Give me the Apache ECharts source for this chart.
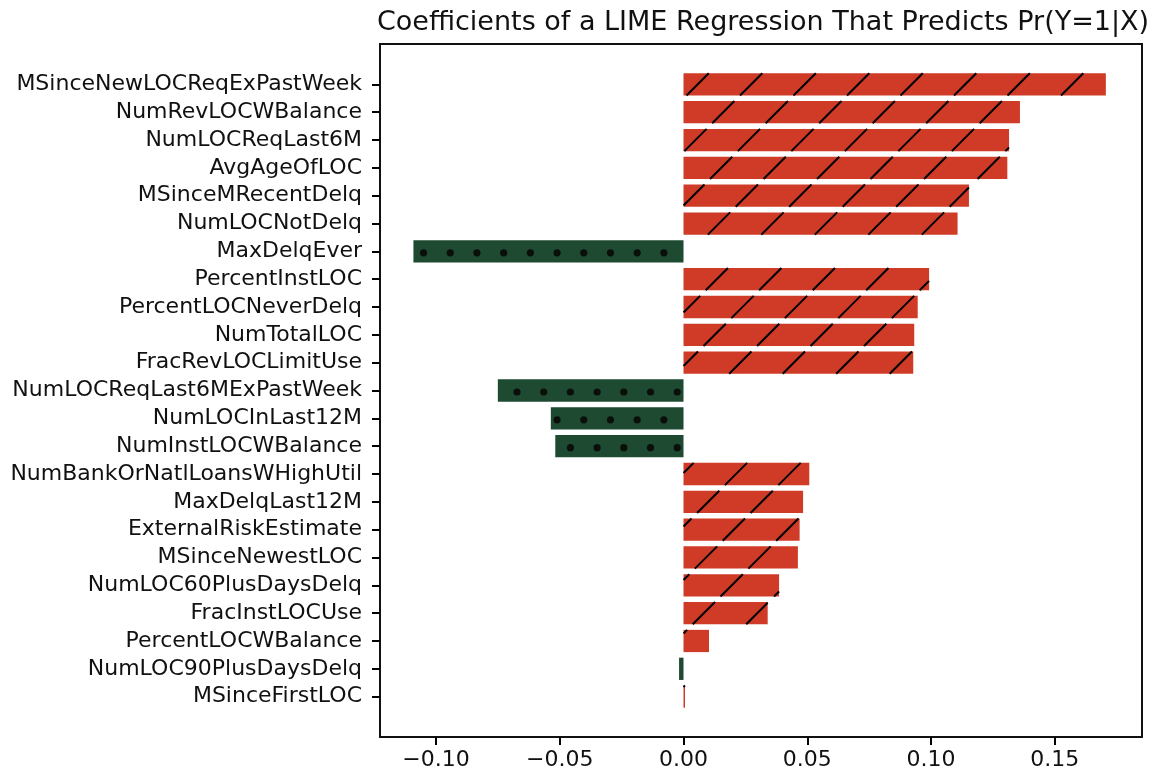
<!DOCTYPE html>
<html>
<head>
<meta charset="utf-8">
<script src="https://cdn.jsdelivr.net/npm/echarts@6/dist/echarts.min.js"></script>
<style>
  html, body { margin: 0; padding: 0; background: #fff; }
  #chart { width: 1149px; height: 775px; }
</style>
</head>
<body>
<div id="chart"></div>
<script>
// Feature names, top to bottom
const categories = [
  'MSinceNewLOCReqExPastWeek', 'NumRevLOCWBalance', 'NumLOCReqLast6M', 'AvgAgeOfLOC',
  'MSinceMRecentDelq', 'NumLOCNotDelq', 'MaxDelqEver', 'PercentInstLOC',
  'PercentLOCNeverDelq', 'NumTotalLOC', 'FracRevLOCLimitUse', 'NumLOCReqLast6MExPastWeek',
  'NumLOCInLast12M', 'NumInstLOCWBalance', 'NumBankOrNatlLoansWHighUtil', 'MaxDelqLast12M',
  'ExternalRiskEstimate', 'MSinceNewestLOC', 'NumLOC60PlusDaysDelq', 'FracInstLOCUse',
  'PercentLOCWBalance', 'NumLOC90PlusDaysDelq', 'MSinceFirstLOC'
];

// LIME coefficient for each feature
const coefficients = [
  0.1706, 0.1359, 0.1315, 0.1308,
  0.1153, 0.1107, -0.1091, 0.0992,
  0.0946, 0.0932, 0.0928, -0.0750,
  -0.0536, -0.0518, 0.0508, 0.0483,
  0.0469, 0.0462, 0.0386, 0.0340,
  0.0103, -0.0018, 0.0006
];

// Tick labels on the coefficient axis
const xTicks = [-0.10, -0.05, 0.00, 0.05, 0.10, 0.15];

const POS_COLOR = '#cf3b27';
const NEG_COLOR = '#1f4a32';
const INK = '#111';
const FONT = 'DejaVu Sans';

const chart = echarts.init(document.getElementById('chart'), null, { renderer: 'canvas' });

function fmtTick(v) {
  const s = Math.abs(v).toFixed(2);
  return v < -1e-9 ? '\u2212' + s : s;
}

// Diagonal "/" hatch lines, clipped to a rectangle (pattern anchored to the canvas)
function hatchLines(x0, y0, x1, y1) {
  const P = 53.5, phase = 33;
  const out = [];
  const cStart = Math.ceil((x0 + y0 - phase) / P) * P + phase;
  for (let c = cStart; c <= x1 + y1; c += P) {
    const xs = Math.max(x0, c - y1);
    const xe = Math.min(x1, c - y0);
    if (xe - xs < 0.5) continue;
    out.push({
      type: 'line',
      shape: { x1: xs, y1: c - xs, x2: xe, y2: c - xe },
      style: { stroke: '#000', lineWidth: 2 },
      silent: true
    });
  }
  return out;
}

// Row of small dots inside negative bars
function dotRow(idx, x0, x1, cy, zeroX) {
  const step = 26.7, r = 3.6;
  const out = [];
  const start = zeroX - 6.3 - 13.35 * ((idx + 1) % 2);
  for (let x = start; x >= x0 + 3; x -= step) {
    if (x > x1 - 2) continue;
    out.push({
      type: 'circle',
      shape: { cx: x, cy: cy + 1.5, r: r },
      style: { fill: '#0b0f0c' },
      silent: true
    });
  }
  return out;
}

const rowTicks = categories.map((_, i) => i);

const option = {
  backgroundColor: '#fff',
  animation: false,
  title: {
    text: 'Coefficients of a LIME Regression That Predicts Pr(Y=1|X)',
    left: 758,
    textAlign: 'center',
    top: 4,
    textStyle: { fontFamily: FONT, fontSize: 27, fontWeight: 'normal', color: INK }
  },
  grid: {
    left: 380, right: 7, top: 44, bottom: 38,
    show: true, borderColor: INK, borderWidth: 2
  },
  xAxis: {
    type: 'value',
    min: -0.1226,
    max: 0.1852,
    axisLine: { show: true, onZero: false, lineStyle: { color: INK, width: 2 } },
    splitLine: { show: false },
    axisTick: { show: true, customValues: xTicks, length: 8, lineStyle: { color: '#000', width: 2 } },
    axisLabel: {
      customValues: xTicks,
      formatter: fmtTick,
      fontFamily: FONT, fontSize: 22, color: INK, margin: 12
    }
  },
  yAxis: {
    type: 'value',
    inverse: true,
    min: -1.45,
    max: categories.length - 1 + 1.45,
    axisLine: { show: true, onZero: false, lineStyle: { color: INK, width: 2 } },
    splitLine: { show: false },
    axisTick: { show: true, customValues: rowTicks, length: 8, lineStyle: { color: '#000', width: 2 } },
    axisLabel: {
      customValues: rowTicks,
      formatter: v => categories[Math.round(v)],
      fontFamily: FONT, fontSize: 22, color: INK, margin: 18
    }
  },
  series: [{
    type: 'custom',
    clip: true,
    data: coefficients.map((v, i) => [v, i]),
    encode: { x: 0, y: 1 },
    renderItem: function (params, api) {
      const v = api.value(0);
      const idx = api.value(1);
      const p0 = api.coord([0, idx]);
      const p1 = api.coord([v, idx]);
      const h = api.size([0, 0.8])[1];
      const x0 = Math.min(p0[0], p1[0]);
      const x1 = Math.max(p0[0], p1[0]);
      const y0 = p0[1] - h / 2;
      const y1 = p0[1] + h / 2;
      const children = [{
        type: 'rect',
        shape: { x: x0, y: y0, width: Math.max(x1 - x0, 1), height: h },
        style: { fill: v >= 0 ? POS_COLOR : NEG_COLOR }
      }];
      const extra = v >= 0 ? hatchLines(x0, y0, x1, y1) : dotRow(idx, x0, x1, p0[1], p0[0]);
      return { type: 'group', children: children.concat(extra) };
    }
  }]
};

chart.setOption(option);
</script>
</body>
</html>
